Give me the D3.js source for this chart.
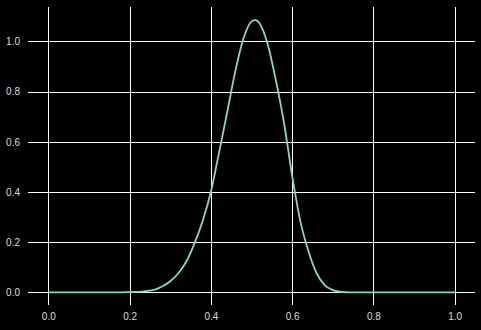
<!DOCTYPE html>
<html>
<head>
<meta charset="utf-8">
<script src="https://cdn.jsdelivr.net/npm/d3@7"></script>
<style>
  html, body { margin: 0; padding: 0; background: #000; }
  svg { display: block; }
</style>
</head>
<body>
<div id="chart"></div>
<script>
// curve samples
const xs = [0.00, 0.10, 0.18, 0.20, 0.22, 0.24, 0.26, 0.28, 0.30, 0.32, 0.34, 0.36, 0.38, 0.40,
            0.42, 0.44, 0.46, 0.48, 0.50, 0.51, 0.52, 0.54, 0.56, 0.58, 0.60, 0.62, 0.64,
            0.66, 0.68, 0.70, 0.72, 0.74, 0.80, 0.90, 1.00];
const ys = [0.000, 0.000, 0.000, 0.001, 0.002, 0.005, 0.010, 0.023, 0.044, 0.076, 0.124, 0.196, 0.285, 0.400,
            0.556, 0.716, 0.880, 1.011, 1.080, 1.085, 1.072, 0.988, 0.845, 0.675, 0.465, 0.285, 0.165,
            0.077, 0.029, 0.009, 0.002, 0.000, 0.000, 0.000, 0.000];
const xTicks = [0.0, 0.2, 0.4, 0.6, 0.8, 1.0];
const yTicks = [0.0, 0.2, 0.4, 0.6, 0.8, 1.0];

const W = 481, H = 330;
const margin = { top: 7, right: 6, bottom: 25, left: 28 };
const width = W - margin.left - margin.right;
const height = H - margin.top - margin.bottom;

const svg = d3.select('#chart')
  .append('svg')
  .attr('width', W)
  .attr('height', H)
  .style('background', '#000');

const g = svg.append('g')
  .attr('transform', 'translate(' + margin.left + ',' + margin.top + ')');

const x = d3.scaleLinear().domain([-0.05, 1.05]).range([0, width]);
const y = d3.scaleLinear().domain([-0.0506, 1.1375]).range([height, 0]);

// grid lines via axes
const gx = g.append('g')
  .attr('transform', 'translate(0,' + height + ')')
  .call(d3.axisBottom(x).tickValues(xTicks).tickSize(-height).tickPadding(8)
    .tickFormat(d3.format('.1f')));
const gy = g.append('g')
  .call(d3.axisLeft(y).tickValues(yTicks).tickSize(-width).tickPadding(8)
    .tickFormat(d3.format('.1f')));

[gx, gy].forEach(a => {
  a.select('.domain').remove();
  a.selectAll('.tick line')
    .attr('stroke', '#fff')
    .attr('stroke-width', 1)
    .attr('shape-rendering', 'crispEdges');
  a.selectAll('.tick text')
    .attr('fill', '#dddddd')
    .style('font-family', '"Liberation Sans", Arial, sans-serif')
    .style('font-size', '10px');
});
gx.selectAll('.tick text').attr('dy', '0.71em');

const data = xs.map((v, i) => ({ x: v, y: ys[i] }));

const line = d3.line()
  .x(d => x(d.x))
  .y(d => y(d.y))
  .curve(d3.curveMonotoneX);

g.append('path')
  .datum(data)
  .attr('fill', 'none')
  .attr('stroke', '#8dd3c7')
  .attr('stroke-width', 1.8)
  .attr('d', line);
</script>
</body>
</html>
